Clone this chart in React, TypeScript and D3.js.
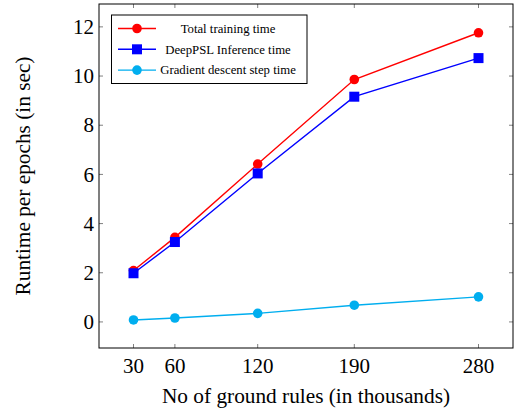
import React from 'react';
import * as d3 from 'd3';

// data
const rules = [30, 60, 120, 190, 280];
const totalTime = [2.09, 3.44, 6.42, 9.86, 11.76];
const inferenceTime = [1.98, 3.25, 6.04, 9.16, 10.73];
const gradientTime = [0.08, 0.16, 0.35, 0.68, 1.02];
const yTicks = [0, 2, 4, 6, 8, 10, 12];
const seriesNames = ['Total training time', 'DeepPSL Inference time', 'Gradient descent step time'];

const W = 518;
const H = 412;
const left = 99;
const right = 513;
const top = 4;
const bottom = 348;
const font = 'Liberation Serif';

export default function App() {
  const x = d3.scaleLinear().domain([5, 305]).range([left, right]);
  const y = d3.scaleLinear().domain([-1.06, 12.93]).range([bottom, top]);

  const line = d3
    .line<number>()
    .x((_, i) => x(rules[i]))
    .y((d) => y(d));

  const series = [
    { name: seriesNames[0], values: totalTime, color: '#ff0000', marker: 'circle' },
    { name: seriesNames[1], values: inferenceTime, color: '#0000ff', marker: 'square' },
    { name: seriesNames[2], values: gradientTime, color: '#00aeef', marker: 'circle' },
  ];

  const marker = (kind: string, cx: number, cy: number, color: string, key: any) =>
    kind === 'square' ? (
      <rect key={key} x={cx - 5} y={cy - 5} width={10} height={10} fill={color} />
    ) : (
      <circle key={key} cx={cx} cy={cy} r={4.8} fill={color} />
    );

  const tickCol = '#808080';

  return (
    <svg width={W} height={H} style={{ position: 'absolute', left: 0, top: 0, fontFamily: font }}>
      <rect width={W} height={H} fill="#fff" />
      {/* ticks inside frame */}
      {yTicks.map((t) => (
        <g key={'y' + t}>
          <line x1={left} x2={left + 4} y1={y(t)} y2={y(t)} stroke={tickCol} />
          <line x1={right - 4} x2={right} y1={y(t)} y2={y(t)} stroke={tickCol} />
          <text x={left - 5} y={y(t)} dy="0.34em" textAnchor="end" style={{ fontFamily: font }} fontSize={21}>
            {t}
          </text>
        </g>
      ))}
      {rules.map((r) => (
        <g key={'x' + r}>
          <line x1={x(r)} x2={x(r)} y1={bottom} y2={bottom - 4} stroke={tickCol} />
          <line x1={x(r)} x2={x(r)} y1={top} y2={top + 4} stroke={tickCol} />
          <text x={x(r)} y={373} textAnchor="middle" style={{ fontFamily: font }} fontSize={21}>
            {r}
          </text>
        </g>
      ))}
      <rect x={left} y={top} width={right - left} height={bottom - top} fill="none" stroke="#000" strokeWidth={1} />

      {series.map((s, si) => (
        <g key={s.name}>
          <path d={line(s.values) || ''} fill="none" stroke={s.color} strokeWidth={1.4} />
          {s.values.map((v, i) => marker(s.marker, x(rules[i]), y(v), s.color, si + '-' + i))}
        </g>
      ))}

      {/* legend */}
      <g>
        <rect x={111.5} y={15} width={195.5} height={68.5} fill="#fff" stroke="#000" strokeWidth={1} />
        {series.map((s, i) => {
          const ly = 28.5 + i * 20.8;
          return (
            <g key={'l' + s.name}>
              <line x1={118} x2={156} y1={ly} y2={ly} stroke={s.color} strokeWidth={1.4} />
              {marker(s.marker, 137, ly, s.color, 'lm' + i)}
              <text x={228} y={ly} dy="0.34em" textAnchor="middle" style={{ fontFamily: font }} fontSize={12.75}>
                {s.name}
              </text>
            </g>
          );
        })}
      </g>

      <text x={(left + right) / 2} y={403} textAnchor="middle" style={{ fontFamily: font }} fontSize={21.3}>
        No of ground rules (in thousands)
      </text>
      <text
        transform={`translate(30,${(top + bottom) / 2}) rotate(-90)`}
        textAnchor="middle"
        style={{ fontFamily: font }}
        fontSize={21.3}
      >
        Runtime per epochs (in sec)
      </text>
    </svg>
  );
}
